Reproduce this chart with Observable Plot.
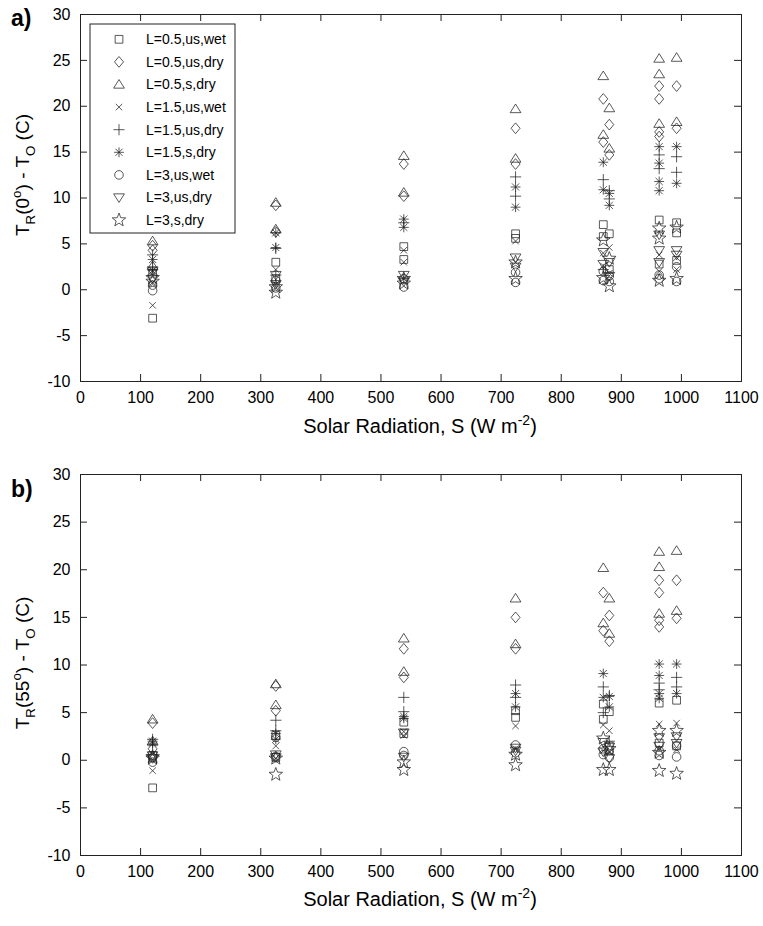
<!DOCTYPE html>
<html><head><meta charset="utf-8">
<script src="https://cdn.jsdelivr.net/npm/d3@7"></script>
<script src="https://cdn.jsdelivr.net/npm/@observablehq/plot@0.6"></script>
<style>
body{margin:0;background:#fff;}
#chart svg{display:block;}
text{white-space:pre;}
</style>
</head><body><div id="chart"></div>
<script>
// ---- data ----
const seriesNames = ["L=0.5,us,wet","L=0.5,us,dry","L=0.5,s,dry","L=1.5,us,wet","L=1.5,us,dry","L=1.5,s,dry","L=3,us,wet","L=3,us,dry","L=3,s,dry"];
const sPositions = [120, 325, 538, 724, 870, 880, 963, 992];
const xTicks = [0,100,200,300,400,500,600,700,800,900,1000,1100];
const yTicks = [-10,-5,0,5,10,15,20,25,30];

// panel a: T_R(0) - T_O, values at each solar-radiation position
const a_sq   = [[-3.1,1.8],[3.0,1.2],[4.7,3.3],[6.1,5.6],[7.1,5.8],[6.1,2.2],[7.6,2.8],[7.3,6.2,3.2]];
const a_dia  = [[4.8,4.3],[9.2,6.3],[13.7,10.2],[17.6,13.7],[20.8,16.1],[18.0,14.7],[22.2,20.8,17.2,16.7],[22.2,17.6]];
const a_tri  = [[5.3,2.6],[9.5,6.6],[14.6,10.6],[19.7,14.3],[23.3,16.9],[19.8,15.4],[25.2,23.5,18.1],[25.3,18.3]];
const a_x    = [[-1.7,0.8],[2.2,0.6],[4.3,3.0],[5.3,3.0],[4.0,2.6],[4.6,1.8],[3.8,2.0],[3.5,2.2]];
const a_plus = [[3.8,2.5],[4.5,1.6],[7.3,1.2],[12.3,10.2],[12.0,2.2],[10.8,9.9],[14.7,13.2],[14.5,12.8]];
const a_ast  = [[3.3,2.1],[6.2,4.6],[7.7,6.8],[11.2,9.0],[13.9,10.9],[10.5,9.2],[15.6,13.8,11.8,10.8],[15.6,11.6]];
const a_cir  = [[-0.1,0.5],[0.2,1.0],[0.3,1.2],[1.9,0.8],[1.0,2.0],[1.5,0.9],[1.6,1.2],[2.5,0.9]];
const a_tdn  = [[2.0,1.2],[1.6,0.6],[1.6,0.9],[3.5,2.5],[4.1,2.8],[3.0,1.5],[6.0,4.3,3.0],[4.3,3.8]];
const a_star = [[1.3,0.9],[-0.3,0.3],[1.2,0.7],[3.0,1.2],[5.4,1.3],[3.4,0.4],[6.7,5.6,1.0],[6.8,1.2]];

// panel b: T_R(55) - T_O
const b_sq   = [[-2.9,0.5],[2.6,0.3],[4.0,2.8],[5.2,4.5],[5.9,4.3],[5.1,1.5],[6.0,1.8],[6.3,1.5]];
const b_dia  = [[3.9,1.2],[7.8,5.2],[11.7,8.7],[15.0,11.7],[17.6,13.6],[15.2,12.5],[18.9,17.6,14.7,14.0],[18.9,14.9]];
const b_tri  = [[4.3,2.0],[8.0,5.8],[12.8,9.3],[17.0,12.2],[20.2,14.4],[17.0,13.3],[21.9,20.3,15.4],[22.0,15.7]];
const b_x    = [[-1.1,0.6],[1.5,0.2],[3.0,2.6],[3.6,1.2],[3.7,1.0],[3.1,0.8],[3.8,1.2],[3.9,1.1]];
const b_plus = [[2.2,1.6],[4.2,3.1],[6.6,5.1],[7.9,6.6],[7.7,5.0],[6.8,2.0],[8.1,7.4],[8.7,7.7]];
const b_ast  = [[2.0,1.8],[2.8,2.2],[4.4,4.6],[7.0,5.6],[9.1,6.6],[6.7,5.6],[10.1,8.9,7.0,6.5],[10.1,7.0]];
const b_cir  = [[-0.2,0.3],[0.4,2.4],[0.9,0.5],[1.6,0.8],[1.2,0.6],[1.0,0.3],[1.0,0.5],[0.35,1.5]];
const b_tdn  = [[0.5,0.2],[0.3,0.6],[0.35,2.9],[1.0,1.3],[1.9,0.9],[1.4,0.2],[2.4,1.5],[2.5,1.8]];
const b_star = [[0.35,0.2],[-1.5,0.2],[-1.0,-0.2],[-0.5,0.6],[2.3,-1.0],[1.2,-1.0],[3.1,-1.1,0.8],[3.1,-1.4]];

// ---- symbols (MATLAB-like open markers) ----
const rad = s => Math.sqrt(s / Math.PI);
const symSquare = {draw(c,s){const r=rad(s)*0.9;c.rect(-r,-r,2*r,2*r);}};
const symDiamond = {draw(c,s){const r=rad(s);c.moveTo(0,-1.25*r);c.lineTo(1.05*r,0);c.lineTo(0,1.25*r);c.lineTo(-1.05*r,0);c.closePath();}};
const symTriUp = {draw(c,s){const r=rad(s);c.moveTo(0,-1.15*r);c.lineTo(1.25*r,0.85*r);c.lineTo(-1.25*r,0.85*r);c.closePath();}};
const symTriDown = {draw(c,s){const r=rad(s);c.moveTo(0,1.15*r);c.lineTo(1.25*r,-0.85*r);c.lineTo(-1.25*r,-0.85*r);c.closePath();}};
const symTimes = {draw(c,s){const r=rad(s)*0.75;c.moveTo(-r,-r);c.lineTo(r,r);c.moveTo(r,-r);c.lineTo(-r,r);}};
const symPlus = {draw(c,s){const r=rad(s)*1.3;c.moveTo(-r,0);c.lineTo(r,0);c.moveTo(0,-r);c.lineTo(0,r);}};
const symAst = {draw(c,s){const r=rad(s)*1.15,q=r*0.72;c.moveTo(-r,0);c.lineTo(r,0);c.moveTo(0,-r);c.lineTo(0,r);c.moveTo(-q,-q);c.lineTo(q,q);c.moveTo(q,-q);c.lineTo(-q,q);}};
const symCircle = {draw(c,s){const r=rad(s);c.moveTo(r,0);c.arc(0,0,r,0,2*Math.PI);}};
const symStar = {draw(c,s){const r=rad(s)*1.65,ir=r*0.42;for(let i=0;i<10;i++){const a=-Math.PI/2+i*Math.PI/5,q=i%2?ir:r;const px=q*Math.cos(a),py=q*Math.sin(a);if(i===0)c.moveTo(px,py);else c.lineTo(px,py);}c.closePath();}};
const symbols = [symSquare,symDiamond,symTriUp,symTimes,symPlus,symAst,symCircle,symTriDown,symStar];

const FONT = "'Liberation Sans', Arial, Helvetica, sans-serif";
const INK = "#222";
const DOT_R = 4.3;
const TICK = 7;
const W = 763, H = 463, ML = 80, MR = 22;

function toRows(arr){
  return arr.flatMap((vals,i)=>vals.map(v=>({S:sPositions[i], T:v})));
}

function richText(sel, parts, fs){
  let shift = 0;
  for (const p of parts){
    const target = p.sub ? fs*0.32 : p.sup ? -fs*0.42 : 0;
    sel.append("tspan").attr("dy", target - shift).attr("font-size", (p.sub||p.sup) ? fs*0.7 : fs).text(p.t);
    shift = target;
  }
}

function panel(seriesArrays, opts){
  const ph = H - opts.mt - opts.mb, pw = W - ML - MR;
  const marks = [
    Plot.axisX({ticks:xTicks, anchor:"bottom", tickSize:0, tickPadding:10, label:null, tickFormat:d=>String(d)}),
    Plot.axisY({ticks:yTicks, anchor:"left", tickSize:0, tickPadding:10, label:null, tickFormat:d=>String(d)}),
    // inward ticks on all four sides
    Plot.tickX(xTicks, {x:d=>d, insetTop:ph-TICK, stroke:INK, strokeWidth:1}),
    Plot.tickX(xTicks, {x:d=>d, insetBottom:ph-TICK, stroke:INK, strokeWidth:1}),
    Plot.tickY(yTicks, {y:d=>d, insetRight:pw-TICK, stroke:INK, strokeWidth:1}),
    Plot.tickY(yTicks, {y:d=>d, insetLeft:pw-TICK, stroke:INK, strokeWidth:1}),
    Plot.frame({stroke:INK, strokeWidth:1})
  ];
  seriesArrays.forEach((arr,i)=>{
    marks.push(Plot.dot(toRows(arr), {x:"S", y:"T", r:DOT_R, symbol:symbols[i], fill:"none", stroke:INK, strokeWidth:0.75}));
  });
  const svg = Plot.plot({
    width:W, height:H,
    marginTop:opts.mt, marginBottom:opts.mb, marginLeft:ML, marginRight:MR,
    x:{domain:[0,1100]}, y:{domain:[-10,30]},
    style:{fontFamily:FONT, fontSize:"16px", color:"#000", background:"#fff", overflow:"visible"},
    marks
  });
  const s = d3.select(svg);
  const bottom = H - opts.mb;
  s.append("text").attr("x",11).attr("y",opts.letterY).attr("text-anchor","start").attr("font-family",FONT).attr("font-weight","bold").attr("font-size",23).attr("fill","#000").text(opts.letter);
  const xl = s.append("text").attr("x",420).attr("y",bottom+opts.xlabOff).attr("text-anchor","middle").attr("font-family",FONT).attr("fill","#000");
  richText(xl, [{t:"Solar Radiation, S (W m"},{t:"-2",sup:true},{t:")"}], 20);
  const yl = s.append("text").attr("transform",`translate(29,${opts.ylabY}) rotate(-90)`).attr("text-anchor","middle").attr("font-family",FONT).attr("fill","#000");
  richText(yl, [{t:"T"},{t:"R",sub:true},{t:"("+opts.angle},{t:"o",sup:true},{t:") - T"},{t:"O",sub:true},{t:" (C)"}], 19);
  return svg;
}

const svgA = panel([a_sq,a_dia,a_tri,a_x,a_plus,a_ast,a_cir,a_tdn,a_star], {mt:14, mb:82, letter:"a)", letterY:26, angle:"0", ylabY:175, xlabOff:52});
const svgB = panel([b_sq,b_dia,b_tri,b_x,b_plus,b_ast,b_cir,b_tdn,b_star], {mt:11, mb:71, letter:"b)", letterY:34, angle:"55", ylabY:200, xlabOff:51});

(function(){
  const s = d3.select(svgA);
  const g = s.append("g").attr("text-anchor","start");
  g.append("rect").attr("x",90).attr("y",24).attr("width",145).attr("height",209).attr("fill","#fff").attr("stroke",INK).attr("stroke-width",1);
  seriesNames.forEach((name,i)=>{
    const y = 39.3 + i*22.6;
    g.append("path").attr("transform",`translate(119,${y})`).attr("d", d3.symbol(symbols[i], Math.PI*DOT_R*DOT_R)()).attr("fill","none").attr("stroke",INK).attr("stroke-width",0.75);
    g.append("text").attr("x",146).attr("y",y).attr("dy","0.35em").attr("text-anchor","start").attr("font-family",FONT).attr("font-size",14).attr("fill","#000").text(name);
  });
})();

const chart = document.getElementById("chart");
chart.appendChild(svgA);
chart.appendChild(svgB);
</script>
</body></html>
